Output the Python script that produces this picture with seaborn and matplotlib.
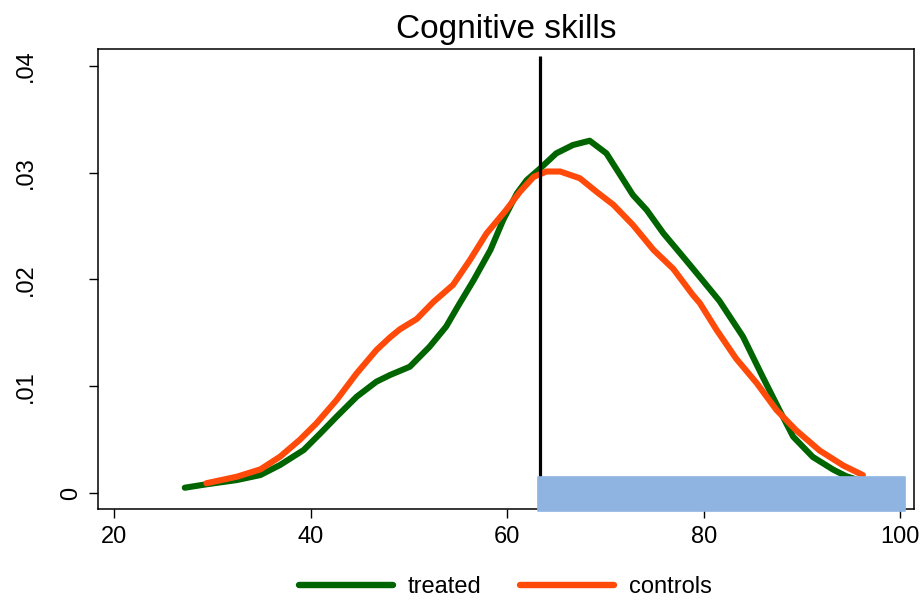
import numpy as np
import pandas as pd
import matplotlib
matplotlib.use("Agg")
import matplotlib.pyplot as plt
import matplotlib.transforms as mtransforms
from matplotlib.lines import Line2D
import seaborn as sns

# ---- data ----
treated_x = [27.2, 29.4, 32.5, 34.9, 36.9, 39.3, 41.0, 42.65, 44.7, 46.7, 48.1, 50.1,
             52.1, 53.8, 55.0, 56.6, 58.3, 59.6, 61.0, 62.0, 63.3, 65.0, 66.7, 68.4,
             70.1, 71.5, 72.8, 74.2, 75.9, 77.9, 79.3, 81.6, 84.0, 86.0, 87.7, 89.1,
             91.1, 93.2, 94.5, 96.5]
treated_y = [0.00052, 0.00084, 0.00124, 0.00171, 0.00265, 0.00405, 0.00561, 0.00717,
             0.00904, 0.01044, 0.01107, 0.01184, 0.0137, 0.0156, 0.0175, 0.01995,
             0.02276, 0.02557, 0.02806, 0.0293, 0.03034, 0.0318, 0.03258, 0.03298,
             0.0318, 0.02978, 0.0279, 0.0265, 0.02432, 0.02213, 0.02058, 0.01800,
             0.01465, 0.0109, 0.0078, 0.0053, 0.0034, 0.0022, 0.0016, 0.0010]
controls_x = [29.4, 32.5, 34.9, 36.9, 38.9, 40.6, 42.65, 44.7, 46.7, 48.1, 49.1, 50.8,
              52.5, 54.5, 56.2, 57.9, 59.9, 61.3, 62.7, 64.0, 65.4, 67.4, 69.1, 70.8,
              72.8, 74.9, 76.9, 78.9, 79.6, 81.3, 83.3, 85.4, 87.4, 89.4, 91.8, 94.2,
              96.2]
controls_y = [0.00094, 0.00155, 0.00224, 0.00343, 0.0050, 0.00655, 0.00873, 0.01123,
              0.0134, 0.0146, 0.01535, 0.0163, 0.0179, 0.0195, 0.0218, 0.0243, 0.0265,
              0.0282, 0.0296, 0.0301, 0.0301, 0.02947, 0.0282, 0.0270, 0.0251, 0.02276,
              0.0210, 0.01855, 0.0178, 0.0153, 0.0126, 0.0103, 0.0078, 0.0059, 0.0040,
              0.0026, 0.0017]
groups = ["treated", "controls"]
cutoff = 63.3
bar_range = [63.1, 100.5]
bar_y = [-0.00163, 0.00155]
x_ticks = [20, 40, 60, 80, 100]
y_ticks = [0, 0.01, 0.02, 0.03, 0.04]
y_ticklabels = ["0", ".01", ".02", ".03", ".04"]
title = "Cognitive skills"

df = pd.DataFrame({
    "x": treated_x + controls_x,
    "y": treated_y + controls_y,
    "group": [groups[0]] * len(treated_x) + [groups[1]] * len(controls_x),
})

sns.set_style("white")
plt.rcParams["font.family"] = ["Liberation Sans", "DejaVu Sans"]
plt.rcParams["text.color"] = "black"
plt.rcParams["axes.labelcolor"] = "black"
plt.rcParams["xtick.color"] = "black"
plt.rcParams["ytick.color"] = "black"

fig = plt.figure(figsize=(9.24, 6.01), dpi=100)
ax = fig.add_axes([98 / 924, 1 - 509 / 601, (914 - 98) / 924, (509 - 49) / 601])

palette = {"treated": "#006400", "controls": "#ff4a0a"}
sns.lineplot(data=df, x="x", y="y", hue="group", hue_order=groups, palette=palette,
             linewidth=4.4, sort=False, estimator=None, ax=ax, legend=False, zorder=3)

ax.vlines(cutoff, 0, 0.04094, color="black", linewidth=2.3, zorder=4)
ax.barh(y=(bar_y[0] + bar_y[1]) / 2, width=bar_range[1] - bar_range[0], left=bar_range[0],
        height=bar_y[1] - bar_y[0], color="#90b4e2", edgecolor="#90b4e2", linewidth=1.2,
        joinstyle="round", clip_on=False, zorder=5)

ax.set_xlim(18.37, 101.4)
ax.set_ylim(-0.00147, 0.04156)
ax.set_xticks(x_ticks)
ax.set_xticklabels([str(t) for t in x_ticks])
ax.set_yticks(y_ticks)
ax.set_yticklabels(y_ticklabels, rotation=90, va="center")
ax.set_xlabel("")
ax.set_ylabel("")
ax.tick_params(axis="both", direction="out", length=6.5, width=1.0, color="black",
               labelcolor="black", labelsize=17, bottom=True, left=True)
ax.tick_params(axis="x", pad=6)
ax.tick_params(axis="y", pad=5)
for sp in ax.spines.values():
    sp.set_visible(True)
    sp.set_color("black")
    sp.set_linewidth(1.1)

# Stata places the rotated non-zero labels further left
shift = mtransforms.ScaledTranslation(-45 / 100, 0, fig.dpi_scale_trans)
for lab in ax.get_yticklabels():
    if lab.get_text() != "0":
        lab.set_transform(lab.get_transform() + shift)

ax.set_title(title, fontsize=24, pad=8, color="black")

handles = [Line2D([0], [0], color=palette[g], linewidth=4.6) for g in groups]
leg = fig.legend(handles, groups, loc="center", bbox_to_anchor=(505 / 924, 1 - 587 / 601),
                 ncol=2, frameon=False, fontsize=17, handlelength=4.0, handletextpad=0.6,
                 columnspacing=1.65)
for t in leg.get_texts():
    t.set_color("black")

fig.savefig("out.png", dpi=100)
